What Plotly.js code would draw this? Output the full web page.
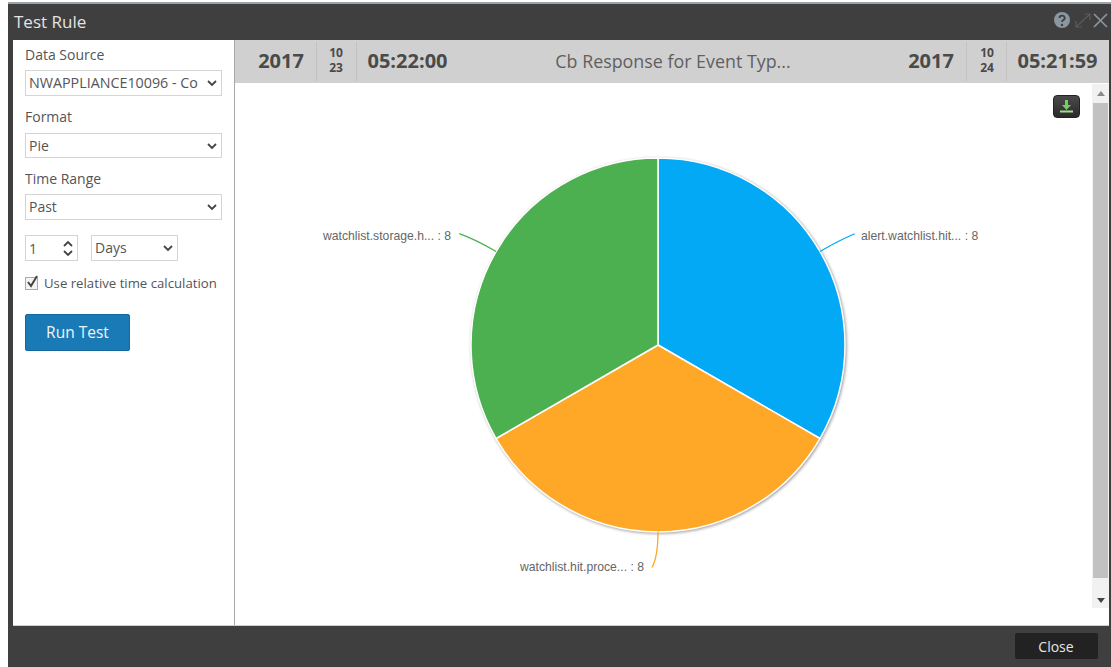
<!DOCTYPE html>
<html>
<head>
<meta charset="utf-8">
<title>Test Rule</title>
<script src="https://cdn.plot.ly/plotly-3.0.1.min.js"></script>
<style>
html,body{margin:0;padding:0;background:#fff;overflow:hidden}
#stage{position:relative;width:1111px;height:667px;font-family:"Open Sans",sans-serif;color:#555;overflow:hidden}
#stage svg{display:block}
.abs{position:absolute;box-sizing:border-box;white-space:nowrap}
.txt{line-height:1}
.box{background:#fff;border:1px solid #d4d4d4;color:#555;line-height:25px;padding-left:3px}
#chart{position:absolute;left:235px;top:83px;width:858px;height:543px}
#chart .pielayer{filter:drop-shadow(1px 1.5px 1.5px rgba(0,0,0,.38))}
</style>
</head>
<body>
<div id="stage"></div>
<script>
// Event counts per event type
var categories = ['alert.watchlist.hit...', 'watchlist.hit.proce...', 'watchlist.storage.h...'];
var counts = [8, 8, 8];
var sliceColors = ['#03a9f4', '#ffa726', '#4caf50'];

// Time window shown in the header strip
var startYear = '2017', startMonth = '10', startDay = '23', startTime = '05:22:00';
var endYear = '2017', endMonth = '10', endDay = '24', endTime = '05:21:59';
var chartTitle = 'Cb Response for Event Typ...';

var stage = document.getElementById('stage');

function rect(l, t, w, h, bg, extra) {
  var d = document.createElement('div');
  d.className = 'abs';
  d.style.cssText = 'left:' + l + 'px;top:' + t + 'px;width:' + w + 'px;height:' + h + 'px;background:' + bg + ';' + (extra || '');
  stage.appendChild(d);
  return d;
}
// Text placed by its vertical centre; align: 0 left edge, .5 centre, 1 right edge
function label(str, x, cy, size, color, weight, align) {
  var d = document.createElement('div');
  d.className = 'abs txt';
  d.textContent = str;
  d.style.cssText = 'left:' + x + 'px;top:' + cy + 'px;font-size:' + size + 'px;color:' + color +
    ';font-weight:' + (weight || 400) + ';transform:translate(' + (-(align || 0) * 100) + '%,-50%)';
  stage.appendChild(d);
  return d;
}
function svg(l, t, w, h, inner) {
  var d = document.createElement('div');
  d.className = 'abs';
  d.style.cssText = 'left:' + l + 'px;top:' + t + 'px;width:' + w + 'px;height:' + h + 'px';
  d.innerHTML = '<svg xmlns="http://www.w3.org/2000/svg" width="' + w + '" height="' + h + '">' + inner + '</svg>';
  stage.appendChild(d);
}
function chevron(cx, cy) {
  svg(cx - 6, cy - 4, 12, 8, '<path d="M2 2 L6 6 L10 2" fill="none" stroke="#444" stroke-width="1.8"/>');
}
function selectBox(str, l, t, w, h, size) {
  var b = rect(l, t, w, h, '#fff');
  b.className = 'abs box';
  b.style.fontSize = size + 'px';
  b.style.lineHeight = (h - 2) + 'px';
  b.textContent = str;
  chevron(l + w - 10, t + h / 2);
}

// Dialog frame
rect(8, 2, 1103, 665, '#3f3f3f');
rect(8, 2, 1103, 2, '#9aa4a8');
rect(13, 40, 222, 586, '#fff');
rect(234, 40, 1, 586, '#a8a8a8');
rect(235, 40, 874, 586, '#fff');
rect(235, 40, 874, 43, '#d0d0d0');
rect(13, 625, 1096, 1, '#cfcfcf');

label('Test Rule', 14, 21, 17, '#e4e4e4');

// Header icons
svg(1053, 11, 56, 18,
  '<circle cx="9" cy="9" r="8" fill="#8a97a0"/>' +
  '<path d="M6.5 7 a2.6 2.4 0 1 1 3.6 2.2 q-1.1 .6 -1.1 1.8" fill="none" stroke="#3f3f3f" stroke-width="1.8"/>' +
  '<circle cx="9" cy="14" r="1.2" fill="#3f3f3f"/>' +
  '<path d="M23 16 L37 3 M31 3 L37 3 L37 9 M23 10 L23 16 L29 16" fill="none" stroke="#5b5b5b" stroke-width="1.2"/>' +
  '<path d="M41 3 L54 16 M54 3 L41 16" fill="none" stroke="#8a97a0" stroke-width="1.6"/>');

// Side panel form
label('Data Source', 25, 54.5, 14, '#555');
selectBox('NWAPPLIANCE10096 - Co', 25, 70, 197, 26, 14.3);
label('Format', 25, 117, 14, '#555');
selectBox('Pie', 25, 133, 197, 25, 14);
label('Time Range', 25, 179, 14, '#555');
selectBox('Past', 25, 194, 197, 26, 14);
var spin = rect(25, 235, 53, 26, '#fff');
spin.className = 'abs box';
spin.style.fontSize = '14px';
spin.textContent = '1';
svg(61, 240, 14, 17, '<path d="M3 6 L7 2 L11 6 M3 11 L7 15 L11 11" fill="none" stroke="#444" stroke-width="1.8"/>');
selectBox('Days', 91, 235, 87, 26, 14);
svg(24, 274, 16, 16,
  '<rect x="1.5" y="3.5" width="12" height="12" fill="#f4f4f4" stroke="#aaa"/>' +
  '<path d="M4 8 L7 12 L13 2" fill="none" stroke="#444" stroke-width="2"/>');
label('Use relative time calculation', 44, 284, 13.2, '#555');
rect(25, 314, 105, 37, '#1a7ab5', 'border:1px solid #14689c;border-radius:2px;');
label('Run Test', 77.5, 333, 15.5, '#eef5fa', 400, .5);

// Time range strip
var dark = '#4a4a4a';
rect(316, 42, 1, 39, '#c2c2c2');
rect(356, 42, 1, 39, '#c2c2c2');
rect(966, 42, 1, 39, '#c2c2c2');
rect(1006, 42, 1, 39, '#c2c2c2');
label(startYear, 281, 61, 20, dark, 700, .5);
label(startMonth, 336, 53, 12, dark, 700, .5);
label(startDay, 336, 68, 12, dark, 700, .5);
label(startTime, 407.5, 61, 20, dark, 700, .5);
label(chartTitle, 673, 61.5, 17.85, '#5f5f5f', 400, .5);
label(endYear, 931, 61, 20, dark, 700, .5);
label(endMonth, 987, 53, 12, dark, 700, .5);
label(endDay, 987, 68, 12, dark, 700, .5);
label(endTime, 1057.5, 61, 20, dark, 700, .5);

// Chart host sits below the scrollbar and icons
var host = document.createElement('div');
host.id = 'chart';
stage.appendChild(host);

// Scrollbar
rect(1092, 84, 17, 524, '#f1f1f1');
rect(1093, 103, 15, 475, '#c1c1c1');
svg(1096, 90, 10, 7, '<path d="M1 6 L5 1 L9 6 Z" fill="#8a8a8a"/>');
svg(1096, 597, 10, 7, '<path d="M1 1 L5 6 L9 1 Z" fill="#444"/>');

// Chart export button
rect(1053, 95, 27, 23, 'linear-gradient(#4a4a4a,#2a2a2a)', 'border-radius:4px;border:1px solid #222;');
svg(1053, 95, 27, 23,
  '<path d="M12 5 h3 v5 h3 l-4.5 5 l-4.5 -5 h3 z" fill="#6fcf5f"/>' +
  '<rect x="7" y="15.5" width="13" height="2" fill="#9fdc90"/>');

// Footer action
rect(1015, 633, 83, 26, '#222', 'border-radius:2px;');
label('Close', 1056, 647, 14, '#e6e6e6', 400, .5);

// Pie geometry inside the chart host, in pixels
var W = 858, H = 543, cx = 423, cy = 262, R = 187;
var total = counts.reduce(function (a, b) { return a + b; }, 0);
var shapes = [], notes = [], running = 0;

counts.forEach(function (v, i) {
  var mid = (running + v / 2) / total * 2 * Math.PI;
  running += v;
  var sx = Math.sin(mid), cz = -Math.cos(mid);
  var right = sx > 0.01;
  var ex = cx + R * sx, ey = cy + R * cz;
  var qx = cx + R * 1.13 * sx, qy = cy + R * 1.13 * cz;
  var tx = cx + R * 1.19 * sx + (right ? 4 : -6), ty = cy + R * 1.19 * cz;
  shapes.push({
    type: 'path', xref: 'paper', yref: 'paper', layer: 'above',
    path: 'M ' + ex / W + ' ' + (1 - ey / H) + ' Q ' + qx / W + ' ' + (1 - qy / H) + ' ' + tx / W + ' ' + (1 - ty / H),
    line: { color: sliceColors[i], width: 1.3 }
  });
  notes.push({
    xref: 'paper', yref: 'paper', showarrow: false,
    x: (tx + (right ? 4 : -6)) / W, y: 1 - (cy + R * 1.18 * cz + 1) / H,
    xanchor: right ? 'left' : 'right', yanchor: 'middle',
    text: categories[i] + ' : ' + v,
    font: { family: '"Liberation Sans", Arial, sans-serif', size: 12.2, color: '#666666' }
  });
});

Plotly.newPlot(host, [{
  type: 'pie',
  labels: categories,
  values: counts,
  sort: false,
  direction: 'clockwise',
  rotation: 0,
  textinfo: 'none',
  hoverinfo: 'label+value',
  marker: { colors: sliceColors, line: { color: '#ffffff', width: 1.5 } },
  domain: { x: [(cx - R) / W, (cx + R) / W], y: [1 - (cy + R) / H, 1 - (cy - R) / H] }
}], {
  width: W, height: H,
  margin: { l: 0, r: 0, t: 0, b: 0 },
  paper_bgcolor: 'rgba(0,0,0,0)',
  showlegend: false,
  shapes: shapes,
  annotations: notes
}, { displayModeBar: false, responsive: false });
</script>
</body>
</html>
